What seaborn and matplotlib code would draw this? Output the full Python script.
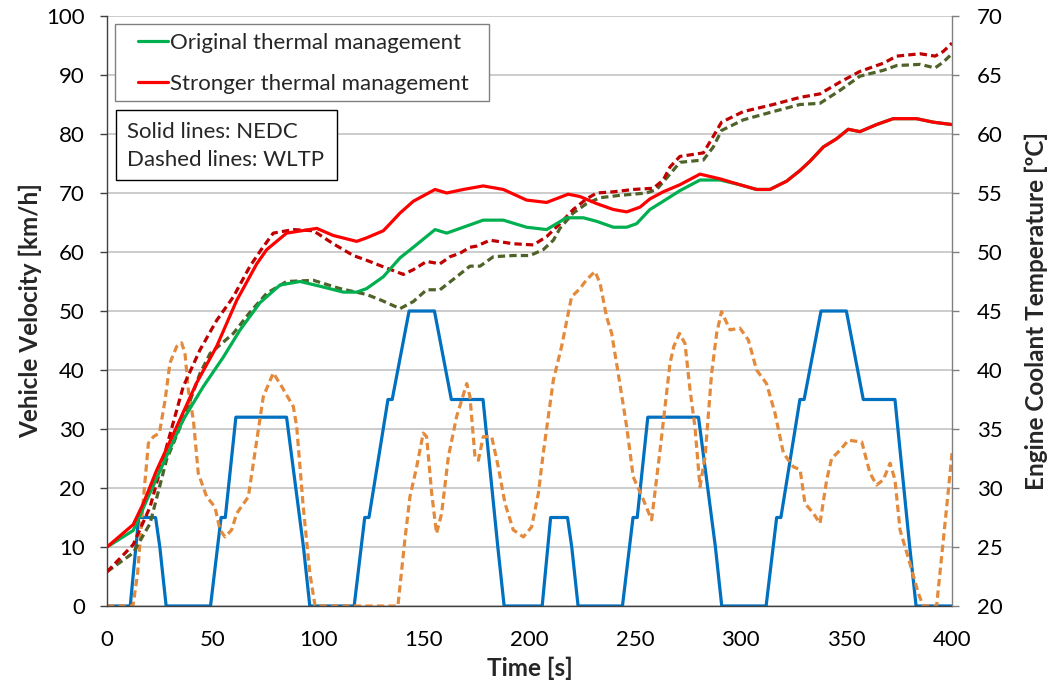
import matplotlib
matplotlib.use("Agg")
import matplotlib.pyplot as plt
import seaborn as sns
import pandas as pd
from matplotlib.lines import Line2D
from matplotlib.patches import Rectangle

# ---------------- data ----------------
# NEDC velocity (km/h)
nedc_t = [0, 11, 15, 23, 25, 28, 49, 54, 56, 61, 85, 93, 96, 117, 122, 124, 133, 135, 143, 155, 163, 176, 178, 185, 188,
          206, 210, 218, 220, 223, 244, 249, 251, 256, 280, 288, 291, 312, 317, 319, 328, 330, 338, 350, 358, 371, 373, 380, 383, 400]
nedc_v = [0, 0, 15, 15, 10, 0, 0, 15, 15, 32, 32, 10, 0, 0, 15, 15, 35, 35, 50, 50, 35, 35, 35, 10, 0,
          0, 15, 15, 10, 0, 0, 15, 15, 32, 32, 10, 0, 0, 15, 15, 35, 35, 50, 50, 35, 35, 35, 10, 0, 0]

# WLTP velocity (km/h)
wltp_t = [0, 12.3, 14.5, 17.2, 19.6, 22.0, 24.8, 27.5, 29.8, 33.0, 35.3, 36.9, 38.5, 40.9, 43.2, 47.2, 51.1, 53.5, 55.9,
          59.0, 61.4, 66.9, 70.9, 74.0, 78.7, 82.7, 88.2, 89.8, 92.9, 96.0, 98.5, 137.7, 141.0, 143.4, 146.6, 149.7,
          151.3, 153.7, 156.0, 158.4, 161.6, 165.5, 170.3, 171.8, 174.2, 175.8, 178.1, 182.1, 185.2, 188.4, 192.3,
          197.1, 201.0, 204.2, 206.5, 208.9, 211.3, 215.2, 219.9, 223.9, 227.0, 231.0, 233.4, 236.5, 238.9, 242.0,
          246.0, 249.1, 253.9, 257.8, 261.8, 266.5, 268.3, 271.0, 273.6, 276.0, 278.3, 280.7, 283.1, 286.2, 288.6,
          290.9, 294.9, 299.6, 303.6, 307.5, 312.2, 316.2, 320.2, 324.9, 328.1, 330.4, 334.4, 337.5, 340.7, 343.0,
          347.0, 350.9, 357.3, 361.2, 364.3, 367.5, 370.7, 373.0, 375.4, 380.1, 384.1, 386.4, 392.7, 395.9, 398.3, 400.0]
wltp_v = [0, 0, 5.6, 18.0, 27.6, 28.7, 29.3, 34.9, 41.2, 44.0, 44.6, 42.9, 36.6, 31.5, 22.5, 18.5, 16.8, 12.9, 11.7,
          12.9, 15.7, 18.5, 28.1, 35.5, 39.5, 37.2, 33.8, 30.4, 16.8, 5.6, 0, 0, 11.2, 18.5, 23.6, 29.3,
          28.7, 19.1, 12.3, 15.7, 25.3, 32.1, 37.7, 35.5, 25.3, 24.7, 28.7, 28.7, 23.6, 17.4, 12.9,
          11.7, 13.4, 19.1, 25.9, 32.1, 38.3, 44.0, 52.4, 53.8, 55.3, 56.7, 54.7, 49.0, 46.2, 39.4,
          30.4, 21.9, 18.0, 14.6, 26.4, 41.1, 44.0, 46.2, 44.5, 36.6, 30.4, 20.2, 25.3, 39.4, 46.2,
          49.9, 46.8, 47.1, 45.1, 40.0, 37.7, 32.7, 25.9, 23.6, 23.1, 17.4, 15.7, 14.0, 21.4, 25.0,
          26.4, 28.1, 27.8, 22.5, 20.5, 21.4, 24.2, 21.4, 12.9, 7.2, 2.1, 0, 0, 11.2, 19.7, 25.9]

# Engine coolant temperature (deg C)
orig_nedc_t = [0, 12.4, 20.4, 28.2, 36.1, 45.6, 55.1, 63.0, 72.4, 81.9, 91.4, 100.8, 111.9, 118.2, 122.9, 130.8, 138.7,
               145.0, 155.3, 160.8, 168.7, 178.1, 187.6, 198.6, 208.1, 217.5, 225.5, 231.8, 239.7, 246.0, 250.7,
               257.0, 263.3, 271.2, 280.7, 290.2, 299.6, 307.5, 313.8, 321.7, 328.0, 332.8, 339.1, 345.4, 350.9,
               356.4, 364.3, 372.2, 383.2, 391.2, 400.0]
orig_nedc_T = [25.0, 26.4, 29.6, 32.7, 35.8, 38.6, 41.1, 43.4, 45.7, 47.2, 47.5, 47.1, 46.6, 46.6, 46.9, 47.9, 49.5,
               50.4, 51.9, 51.6, 52.1, 52.7, 52.7, 52.1, 51.9, 52.9, 52.9, 52.6, 52.1, 52.1, 52.4,
               53.6, 54.3, 55.2, 56.1, 56.1, 55.7, 55.3, 55.3, 56.0, 56.9, 57.7, 58.9, 59.6, 60.4,
               60.2, 60.8, 61.3, 61.3, 61.0, 60.8]

strong_nedc_t = [0, 12.4, 17.2, 23.5, 33.0, 42.4, 51.9, 61.4, 70.9, 75.6, 85.0, 99.3, 107.1, 118.2, 122.9, 130.8, 134.0,
                 138.7, 145.0, 155.3, 160.8, 168.7, 178.1, 187.6, 198.6, 208.1, 218.3, 223.9, 231.8, 239.7, 246.0,
                 252.3, 257.0, 263.3, 271.2, 280.7, 290.2, 299.6, 307.5, 313.8, 321.7, 328.0, 332.8, 339.1, 345.4,
                 350.9, 356.4, 364.3, 372.2, 383.2, 391.2, 400.0]
strong_nedc_T = [25.0, 26.9, 28.7, 31.5, 35.2, 38.9, 42.0, 45.9, 49.0, 50.2, 51.6, 52.0, 51.4, 50.9, 51.2, 51.8, 52.4,
                 53.3, 54.3, 55.3, 55.0, 55.3, 55.6, 55.3, 54.4, 54.2, 54.9, 54.7, 54.1, 53.6, 53.4,
                 53.8, 54.5, 55.1, 55.7, 56.6, 56.2, 55.7, 55.3, 55.3, 56.0, 56.9, 57.7, 58.9, 59.6,
                 60.4, 60.2, 60.8, 61.3, 61.3, 61.0, 60.8]

orig_wltp_t = [0, 12.4, 20.4, 28.2, 36.1, 44.0, 48.8, 59.8, 67.7, 75.6, 85.0, 97.7, 110.3, 122.9, 130.0, 138.7, 145.0,
               151.3, 157.6, 165.5, 171.8, 176.6, 182.9, 192.3, 200.2, 206.5, 211.3, 214.4, 220.7, 227.0, 233.4,
               242.8, 255.4, 260.2, 266.5, 271.2, 282.3, 287.0, 290.9, 301.2, 315.4, 328.0, 337.5, 347.0, 356.4,
               367.5, 373.8, 384.9, 392.0, 395.9, 400.0]
orig_wltp_T = [22.9, 24.5, 27.0, 32.4, 35.8, 39.7, 41.4, 43.1, 44.9, 46.5, 47.5, 47.6, 46.9, 46.4, 45.9, 45.2, 45.8,
               46.8, 46.8, 47.9, 48.8, 48.8, 49.6, 49.7, 49.7, 50.2, 51.0, 52.0, 53.3, 54.1, 54.6,
               54.8, 55.0, 55.3, 56.6, 57.6, 57.8, 58.9, 60.3, 61.2, 61.9, 62.5, 62.6, 63.7, 64.9,
               65.4, 65.8, 65.9, 65.6, 66.1, 66.8]

strong_wltp_t = [0, 12.4, 20.4, 28.2, 36.1, 44.0, 51.9, 59.8, 67.7, 73.0, 78.7, 88.2, 97.7, 107.1, 116.6, 122.9, 130.0,
                 140.3, 145.0, 151.3, 157.6, 162.4, 167.1, 171.8, 175.0, 181.3, 192.3, 201.8, 208.1, 214.4, 220.7,
                 227.0, 231.8, 239.7, 249.1, 258.6, 263.3, 266.5, 271.2, 282.3, 287.0, 290.9, 301.2, 315.4, 328.0,
                 337.5, 347.0, 356.4, 367.5, 373.8, 384.9, 392.0, 395.9, 400.0]
strong_wltp_T = [22.9, 25.2, 28.4, 33.5, 38.6, 41.7, 44.2, 46.2, 48.8, 50.2, 51.6, 51.9, 51.8, 50.7, 49.7, 49.3, 48.8,
                 48.1, 48.5, 49.2, 49.0, 49.6, 49.9, 50.4, 50.5, 51.0, 50.7, 50.6, 51.3, 52.4, 53.6,
                 54.5, 55.0, 55.1, 55.3, 55.4, 56.1, 57.2, 58.1, 58.4, 59.8, 61.0, 61.9, 62.5, 63.1,
                 63.4, 64.4, 65.3, 66.0, 66.6, 66.8, 66.6, 67.0, 67.7]

legend_labels = ["Original thermal management", "Stronger thermal management"]
note_lines = ["Solid lines: NEDC", "Dashed lines: WLTP"]

# ---------------- style ----------------
sns.set_style("white")
plt.rcParams['font.family'] = ['Lato', 'DejaVu Sans']

C_GREEN = "#00B050"
C_RED = "#FF0000"
C_DRED = "#C00000"
C_OLIVE = "#4F6228"
C_BLUE = "#0070C0"
C_ORANGE = "#E38A3C"

FS = 16
FL = 17.5

W, H = 1056, 685
L, R, T, B = 107, 952, 16, 606
AW, AH = R - L, B - T

fig = plt.figure(figsize=(W / 100, H / 100), dpi=100)
ax = fig.add_axes([L / W, 1 - B / H, AW / W, AH / H])
ax2 = ax.twinx()


def ax_x(px):
    return (px - L) / AW


def ax_y(py):
    return 1 - (py - T) / AH


lw = 2.3
dash = (2.3, 1.3)

sns.lineplot(x=nedc_t, y=nedc_v, ax=ax, color=C_BLUE, lw=lw, estimator=None, sort=False)
sns.lineplot(x=wltp_t, y=wltp_v, ax=ax, color=C_ORANGE, lw=lw, estimator=None, sort=False)
ax.lines[-1].set_dashes(dash)

sns.lineplot(x=orig_wltp_t, y=orig_wltp_T, ax=ax2, color=C_OLIVE, lw=lw, estimator=None, sort=False)
ax2.lines[-1].set_dashes(dash)
sns.lineplot(x=strong_wltp_t, y=strong_wltp_T, ax=ax2, color=C_DRED, lw=lw, estimator=None, sort=False)
ax2.lines[-1].set_dashes(dash)
sns.lineplot(x=orig_nedc_t, y=orig_nedc_T, ax=ax2, color=C_GREEN, lw=lw, estimator=None, sort=False)
sns.lineplot(x=strong_nedc_t, y=strong_nedc_T, ax=ax2, color=C_RED, lw=lw, estimator=None, sort=False)

ax.set_xlim(0, 400)
ax.set_ylim(0, 100)
ax2.set_ylim(20, 70)
ax.set_xticks(range(0, 401, 50))
ax.set_yticks(range(0, 101, 10))
ax2.set_yticks(range(20, 71, 5))

ax.yaxis.grid(True, color="#BFBFBF", lw=1.1)
ax.xaxis.grid(False)
ax.set_axisbelow(True)

for a in (ax, ax2):
    for s in a.spines.values():
        s.set_linewidth(1.0)
ax.spines['left'].set_color("#404040")
ax.spines['bottom'].set_color("#404040")
ax.spines['top'].set_visible(False)
ax2.spines['top'].set_visible(False)
ax2.spines['left'].set_visible(False)
ax2.spines['bottom'].set_visible(False)
ax.spines['right'].set_visible(False)
ax2.spines['right'].set_color("#808080")

ax.tick_params(axis='y', direction='out', length=5, width=1, color="#404040",
               labelsize=FS, pad=11, labelcolor="black")
ax.tick_params(axis='x', direction='out', length=5, width=1, color="#404040",
               labelsize=FS, pad=12, labelcolor="black")
ax2.tick_params(axis='y', direction='out', length=5, width=1, color="#808080",
                labelsize=FS, pad=13, labelcolor="black")

ax.set_xlabel("Time [s]", fontsize=FL, fontweight='bold', labelpad=5)
ax.set_ylabel("Vehicle Velocity [km/h]", fontsize=FL, fontweight='bold', labelpad=3)
ax2.set_ylabel("Engine Coolant Temperature [ºC]", fontsize=FL, fontweight='bold', labelpad=16)

# legend frame + legend
ax2.add_patch(Rectangle((ax_x(115), ax_y(101)), ax_x(489) - ax_x(115), ax_y(24) - ax_y(101),
                        transform=ax2.transAxes, facecolor="white", edgecolor="#808080",
                        lw=1.0, zorder=6, clip_on=False))
handles = [Line2D([], [], color=C_GREEN, lw=lw), Line2D([], [], color=C_RED, lw=lw)]
leg = ax2.legend(handles, legend_labels, loc='upper left', bbox_to_anchor=(ax_x(138), ax_y(33)),
                 fontsize=FS, frameon=False, handlelength=1.35, handletextpad=0.1,
                 borderpad=0, labelspacing=0.95, borderaxespad=0)
leg.set_zorder(8)

# note box
ax2.add_patch(Rectangle((ax_x(116), ax_y(180)), ax_x(337) - ax_x(116), ax_y(110) - ax_y(180),
                        transform=ax2.transAxes, facecolor="white", edgecolor="black",
                        lw=1.0, zorder=6, clip_on=False))
for i, line in enumerate(note_lines):
    ax2.text(ax_x(127), ax_y(132 + 27.5 * i), line, transform=ax2.transAxes, fontsize=FS,
             va='center', ha='left', zorder=8)

fig.savefig("out.png", dpi=100, facecolor="white")
